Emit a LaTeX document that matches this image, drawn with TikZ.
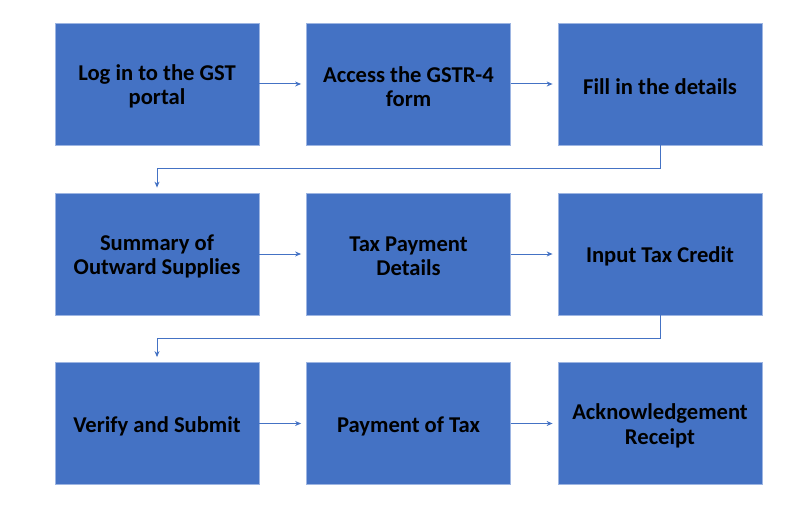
\documentclass[tikz,border=0pt]{standalone}
\usepackage{fontspec}
\setmainfont{Carlito}
\usetikzlibrary{arrows.meta}
\definecolor{boxblue}{HTML}{4472C4}
\definecolor{boxedge}{HTML}{9DB5E2}
\tikzset{
  stepbox/.style={rectangle, fill=boxblue, draw=boxedge, line width=0.8pt,
    minimum width=204pt, minimum height=122pt, inner sep=0pt,
    label={[steptext]center:#1}},
  steptext/.style={align=center, inner sep=0pt, yshift=-2.5pt,
    font=\fontsize{22.6}{24.5}\selectfont\bfseries, text=black},
  conn/.style={draw=boxblue, line width=1pt, -{Stealth[length=6pt,width=5pt]}, shorten >=5pt}
}
\begin{document}
\begin{tikzpicture}[x=1pt,y=1pt]
\useasboundingbox (0,0) rectangle (810,507);
\node[stepbox={Log in to the GST\\portal}] (a1) at (157,423) {};
\node[stepbox={Access the GSTR-4\\form}] (a2) at (408.5,423) {};
\node[stepbox={Fill in the details}] (a3) at (660,423) {};
\node[stepbox={Summary of\\Outward Supplies}] (b1) at (157,253) {};
\node[stepbox={Tax Payment\\Details}] (b2) at (408.5,253) {};
\node[stepbox={Input Tax Credit}] (b3) at (660,253) {};
\node[stepbox={Verify and Submit}] (c1) at (157,83.5) {};
\node[stepbox={Payment of Tax}] (c2) at (408.5,83.5) {};
\node[stepbox={Acknowledgement\\Receipt}] (c3) at (660,83.5) {};
\draw[conn] (a1) -- (a2);
\draw[conn] (a2) -- (a3);
\draw[conn] (b1) -- (b2);
\draw[conn] (b2) -- (b3);
\draw[conn] (c1) -- (c2);
\draw[conn] (c2) -- (c3);
\draw[conn] (a3.south) -- ++(0,-23.5) -| (b1.north);
\draw[conn] (b3.south) -- ++(0,-23.5) -| (c1.north);
\end{tikzpicture}
\end{document}
